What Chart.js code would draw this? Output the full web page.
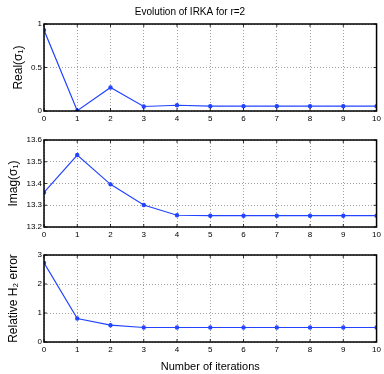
<!DOCTYPE html>
<html>
<head>
<meta charset="utf-8">
<script src="https://cdn.jsdelivr.net/npm/chart.js@4.4.0/dist/chart.umd.min.js"></script>
<style>
  body { margin: 0; background: #fff; }
  #wrap { position: relative; width: 384px; height: 374px; }
  canvas { position: absolute; left: 0; }
</style>
</head>
<body>
<div id="wrap">
  <canvas id="c1" width="384" height="125" style="top:0px"></canvas>
  <canvas id="c2" width="384" height="113" style="top:128px"></canvas>
  <canvas id="c3" width="384" height="131" style="top:243px"></canvas>
</div>
<script>
// iterations 0..10
var iterations = [0, 1, 2, 3, 4, 5, 6, 7, 8, 9, 10];
var realSigma = [0.93, 0.004, 0.27, 0.052, 0.066, 0.056, 0.056, 0.056, 0.056, 0.056, 0.056];
var imagSigma = [13.359, 13.531, 13.396, 13.301, 13.254, 13.252, 13.252, 13.252, 13.252, 13.252, 13.252];
var relError = [2.73, 0.81, 0.58, 0.5, 0.5, 0.5, 0.5, 0.5, 0.5, 0.5, 0.5];

var xTicks = [0, 1, 2, 3, 4, 5, 6, 7, 8, 9, 10];
var yTicksReal = [0, 0.5, 1];
var yTicksImag = [13.2, 13.3, 13.4, 13.5, 13.6];
var yTicksErr = [0, 1, 2, 3];

var FONT = '"Liberation Sans", Arial, Helvetica, sans-serif';
var BLUE = '#2244ff';

// cadre noir + petites graduations vers l'interieur
var framePlugin = {
  id: 'frame',
  afterDraw: function(chart) {
    var a = chart.chartArea, ctx = chart.ctx;
    var sx = chart.scales.x, sy = chart.scales.y;
    ctx.save();
    ctx.strokeStyle = '#000';
    ctx.lineWidth = 0.8;
    ctx.beginPath();
    sx.ticks.forEach(function(t) {
      var px = sx.getPixelForValue(t.value);
      ctx.moveTo(px, a.bottom); ctx.lineTo(px, a.bottom - 3);
      ctx.moveTo(px, a.top); ctx.lineTo(px, a.top + 3);
    });
    sy.ticks.forEach(function(t) {
      var py = sy.getPixelForValue(t.value);
      ctx.moveTo(a.left, py); ctx.lineTo(a.left + 3, py);
      ctx.moveTo(a.right, py); ctx.lineTo(a.right - 3, py);
    });
    ctx.stroke();
    ctx.lineWidth = 1.5;
    ctx.strokeRect(a.left, a.top, a.right - a.left, a.bottom - a.top);
    ctx.restore();
  }
};

function makeChart(id, values, yTicks, yLabel, opts) {
  var pts = iterations.map(function(x, i) { return { x: x, y: values[i] }; });
  return new Chart(document.getElementById(id), {
    type: 'line',
    data: {
      datasets: [{
        data: pts,
        borderColor: BLUE,
        backgroundColor: BLUE,
        borderWidth: 1.2,
        pointRadius: 1.6,
        pointHoverRadius: 1.6,
        tension: 0
      }]
    },
    plugins: [framePlugin],
    options: {
      responsive: false,
      animation: false,
      layout: { padding: { top: opts.padTop, right: 4, left: 0, bottom: 0 } },
      plugins: {
        legend: { display: false },
        tooltip: { enabled: false },
        title: opts.title ? {
          display: true,
          text: opts.title,
          color: '#000',
          font: { family: FONT, size: 10, weight: 'normal' },
          padding: { top: 6, bottom: 6 }
        } : { display: false }
      },
      scales: {
        x: {
          type: 'linear',
          min: 0,
          max: 10,
          afterBuildTicks: function(s) { s.ticks = xTicks.map(function(v) { return { value: v }; }); },
          afterFit: function(s) { s.height = opts.xHeight; },
          border: { display: false, dash: [1, 2] },
          grid: { color: '#888', lineWidth: 0.8, drawTicks: false },
          ticks: {
            color: '#000', padding: 3, maxRotation: 0, font: { family: FONT, size: 8 },
            callback: function(v) { return String(v); }
          },
          title: opts.xTitle ? {
            display: true,
            text: opts.xTitle,
            color: '#000',
            font: { family: FONT, size: 11 },
            padding: { top: 0, bottom: 0 }
          } : { display: false }
        },
        y: {
          min: yTicks[0],
          max: yTicks[yTicks.length - 1],
          afterBuildTicks: function(s) { s.ticks = yTicks.map(function(v) { return { value: v }; }); },
          afterFit: function(s) { s.width = 44; },
          border: { display: false, dash: [1, 2] },
          grid: { color: '#888', lineWidth: 0.8, drawTicks: false },
          ticks: {
            color: '#000', padding: 2, font: { family: FONT, size: 8 },
            callback: function(v) { return String(v); }
          },
          title: {
            display: true,
            text: yLabel,
            color: '#000',
            font: { family: FONT, size: 12 },
            padding: { top: opts.yTitlePad, bottom: 0 }
          }
        }
      }
    }
  });
}

makeChart('c1', realSigma, yTicksReal, 'Real(σ₁)', { padTop: 0, title: 'Evolution of IRKA for r=2', xHeight: 14, yTitlePad: 11 });
makeChart('c2', imagSigma, yTicksImag, 'Imag(σ₁)', { padTop: 12, xHeight: 14, yTitlePad: 6 });
makeChart('c3', relError, yTicksErr, 'Relative H₂ error', { padTop: 12, xHeight: 32, yTitlePad: 6, xTitle: 'Number of iterations' });
</script>
</body>
</html>
